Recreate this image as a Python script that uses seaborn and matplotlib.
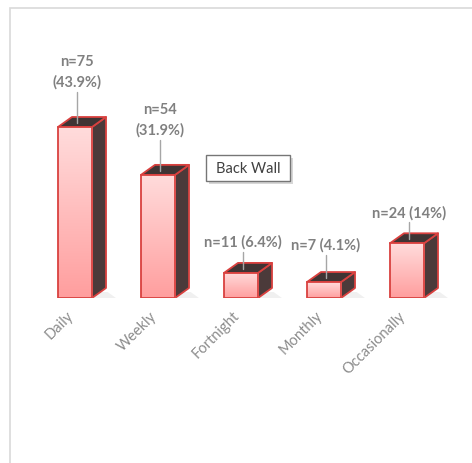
import numpy as np
import pandas as pd
import seaborn as sns
import matplotlib.pyplot as plt
from matplotlib.patches import Polygon, Rectangle
from matplotlib.colors import LinearSegmentedColormap

categories = ["Daily", "Weekly", "Fortnight", "Monthly", "Occasionally"]
counts = [75, 54, 11, 7, 24]
percents = ["43.9%", "31.9%", "6.4%", "4.1%", "14%"]
two_line = [True, True, False, False, False]

df = pd.DataFrame({"freq": categories, "n": counts})

sns.set_theme(style="white")
plt.rcParams["font.family"] = ["Lato", "DejaVu Sans"]

W, H = 472, 464
fig = plt.figure(figsize=(W / 100, H / 100), dpi=100)
fig.patch.set_facecolor("white")

# outer chart-area border (top-left corner visible)
fig.add_artist(Rectangle((10 / W, -0.1), 1.2, 1 - 9 / H + 0.1, transform=fig.transFigure,
                         fill=False, edgecolor="#d9d9d9", lw=1.2))

# plot area: bar i centred at 75 + 83*i px, baseline at y=299 px
ax = fig.add_axes([33.5 / W, (H - 299) / H, 415 / W, 228 / H])
ax.set_xlim(-0.5, 4.5)
ymax = 100
ax.set_ylim(0, ymax)
ax.axis("off")
px = ymax / 228.0  # data units per vertical pixel
pxx = 5.0 / 415.0  # data units per horizontal pixel

bw = 0.41
sns.barplot(data=df, x="freq", y="n", ax=ax, width=bw, color="#ffaaaa",
            edgecolor="#d9413f", linewidth=1.3, zorder=3)

dx = 14 * pxx
dy = 10 * px
red = "#d9413f"
dark = "#4b3a3a"
cmap = LinearSegmentedColormap.from_list("pinkgrad", ["#ffdcdc", "#ff9e9e"])
grad = np.linspace(0, 1, 128).reshape(-1, 1)

# gap (px) between each data label and its bar top
label_gap = [38, 38, 24, 30, 24]

for i, p in enumerate(ax.patches):
    x0 = p.get_x()
    x1 = x0 + p.get_width()
    h = p.get_height()
    # soft floor shadow
    ax.add_patch(Polygon([(x0 + 0.05, 0), (x1 + dx + 0.12, 0.0), (x1 + dx + 0.02, dy * 0.6),
                          (x0 + dx, dy * 0.6)], closed=True, facecolor="#000000",
                         alpha=0.06, edgecolor="none", zorder=1))
    # side and top faces
    ax.add_patch(Polygon([(x1, 0), (x1 + dx, dy), (x1 + dx, h + dy), (x1, h)], closed=True,
                         facecolor=dark, edgecolor=red, lw=1.3, zorder=2, joinstyle="round"))
    ax.add_patch(Polygon([(x0, h), (x0 + dx, h + dy), (x1 + dx, h + dy), (x1, h)], closed=True,
                         facecolor="#3f3434", edgecolor=red, lw=1.3, zorder=2, joinstyle="round"))
    # gradient front face
    im = ax.imshow(grad, cmap=cmap, extent=(x0, x1, 0, h), origin="upper",
                   aspect="auto", zorder=2.5, interpolation="bilinear")
    im.set_clip_path(p)
    p.set_facecolor("none")

    # data label with leader line
    cx = x0 + p.get_width() / 2 + 2 * pxx
    if two_line[i]:
        label = f"n={counts[i]}\n({percents[i]})"
    else:
        label = f"n={counts[i]} ({percents[i]})"
    ly = h + label_gap[i] * px
    ax.plot([cx, cx], [h + dy * 0.4, ly - 3 * px], color="#a6a6a6", lw=1, zorder=4)
    ax.text(cx, ly, label, ha="center", va="bottom", fontsize=10.5, fontweight="bold",
            color="#808080", linespacing=1.55, zorder=5)

    # rotated category label
    ax.text(x0 + p.get_width() / 2 - 4 * pxx, -15 * px, categories[i], rotation=45,
            rotation_mode="anchor", ha="right", va="center", fontsize=10.5,
            color="#8c8c8c")

# "Back Wall" tooltip
fig.add_artist(Rectangle((209 / W, (H - 185) / H), 84 / W, 26 / H, transform=fig.transFigure,
                         facecolor="#bdbdbd", edgecolor="none", alpha=0.6))
fig.add_artist(Rectangle((206 / W, (H - 182) / H), 84 / W, 26 / H, transform=fig.transFigure,
                         facecolor="white", edgecolor="#767676", lw=1))
fig.text(248 / W, (H - 169) / H, "Back Wall", ha="center", va="center", fontsize=10.5,
         color="#404040")

fig.savefig("out.png", dpi=100, facecolor="white")
